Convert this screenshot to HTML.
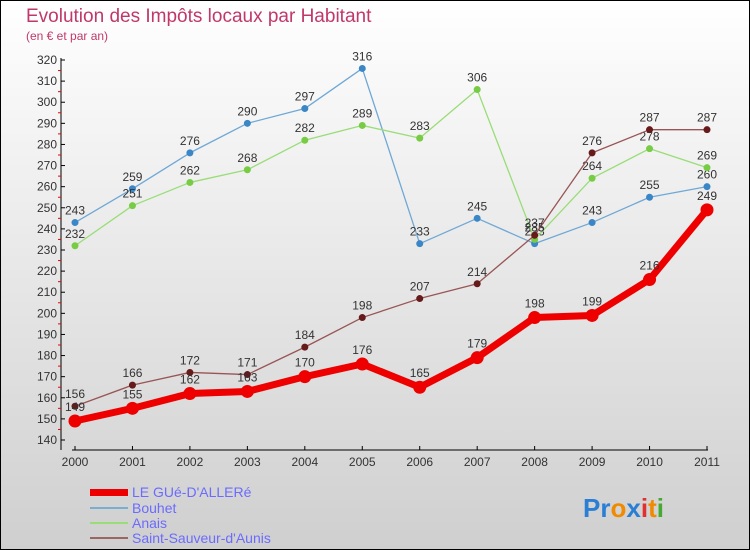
<!DOCTYPE html>
<html><head><meta charset="utf-8"><style>
body{margin:0}
svg{display:block;font-family:"Liberation Sans",sans-serif}
</style></head><body>
<svg id="c" width="750" height="550">
<defs><linearGradient id="bg" x1="0" y1="0" x2="0" y2="1"><stop offset="0" stop-color="#ffffff"/><stop offset="1" stop-color="#cfcfcf"/></linearGradient></defs>
<rect x="0.5" y="0.5" width="749" height="549" fill="url(#bg)" stroke="#000"/>
<text x="26" y="22" font-size="19" fill="#c0386a">Evolution des Impôts locaux par Habitant</text>
<text x="26" y="40" font-size="12" fill="#c0386a">(en € et par an)</text>
<g id="axes"></g><g id="series"></g>
<g>
<rect x="90" y="489" width="38" height="7" fill="#e00"/>
<text x="132" y="497" font-size="14" fill="#6b6bff">LE GUé-D'ALLERé</text>
<rect x="90" y="507" width="38" height="2" fill="#7aaed0"/>
<text x="132" y="513" font-size="14" fill="#6b6bff">Bouhet</text>
<rect x="90" y="522" width="38" height="2" fill="#99dd77"/>
<text x="132" y="528" font-size="14" fill="#6b6bff">Anais</text>
<rect x="90" y="537" width="38" height="2" fill="#996666"/>
<text x="132" y="543" font-size="14" fill="#6b6bff">Saint-Sauveur-d'Aunis</text>
</g>
<g font-size="26" font-weight="bold">
<text x="583" y="517"><tspan fill="#2a7fd4">Pr</tspan><tspan fill="#f08a00">o</tspan><tspan fill="#2a7fd4">x</tspan><tspan fill="#e03030">i</tspan><tspan fill="#f08a00">t</tspan><tspan fill="#44aa33">i</tspan></text>
</g>
</svg>
<script>
const years=["2000","2001","2002","2003","2004","2005","2006","2007","2008","2009","2010","2011"];
const yTicks=[140,150,160,170,180,190,200,210,220,230,240,250,260,270,280,290,300,310,320];
const leGue=[149,155,162,163,170,176,165,179,198,199,216,249];
const bouhet=[243,259,276,290,297,316,233,245,233,243,255,260];
const anais=[232,251,262,268,282,289,283,306,235,264,278,269];
const saintSauveur=[156,166,172,171,184,198,207,214,237,276,287,287];
const NS="http://www.w3.org/2000/svg";
const X=i=>75+i*(707-75)/11;
const Y=v=>440-(v-140)*(380/180);
function el(t,a,p){const e=document.createElementNS(NS,t);for(const k in a)e.setAttribute(k,a[k]);p.appendChild(e);return e;}
const ax=document.getElementById('axes');
const yl=el('line',{x1:61,y1:58,x2:61,y2:450,stroke:'#000'},ax);


yTicks.forEach(v=>{
  el('line',{x1:61,y1:Y(v),x2:65,y2:Y(v),stroke:'#000'},ax);
  if(v<320)el('line',{x1:58,y1:Y(v+5),x2:61,y2:Y(v+5),stroke:'#e00'},ax);
  const t=el('text',{x:57,y:Y(v)+4,'font-size':12,'text-anchor':'end',fill:'#333'},ax);
  t.textContent=v;
  
  
});
const xl=el('line',{x1:72,y1:450,x2:708,y2:450,stroke:'#000'},ax);


years.forEach((y,i)=>{
  el('line',{x1:X(i),y1:446,x2:X(i),y2:450,stroke:'#000'},ax);
  const t=el('text',{x:X(i),y:466,'font-size':12,'text-anchor':'middle',fill:'#333'},ax);
  t.textContent=y;
  
  
});
const sg=document.getElementById('series');
function series(data,name,color,w,r,dot,dy){
  const g=el('g',{},sg);
  
  
  const pl=el('polyline',{points:data.map((v,i)=>X(i)+','+Y(v)).join(' '),fill:'none',stroke:color,'stroke-width':w,'stroke-linejoin':'round'},g);
  
  
  data.forEach((v,i)=>{
    const c=el('circle',{cx:X(i),cy:Y(v),r:r,fill:dot},g);
    
    
    const t=el('text',{x:X(i),y:Y(v)+dy,'font-size':12,'text-anchor':'middle',fill:'#333'},g);
    t.textContent=v;
    
    
  });
}
series(bouhet,'bouhet','#6fa8d6',1.3,3.5,'#3b86c6',-8);
series(anais,'anais','#99dd77',1.3,3.5,'#77cc44',-8);
series(saintSauveur,'saint-sauveur','#995555',1.3,3.5,'#661a1a',-8);
series(leGue,'le-gue','#ee0000',7,6.5,'#ee0000',-10);
</script>
</body></html>
